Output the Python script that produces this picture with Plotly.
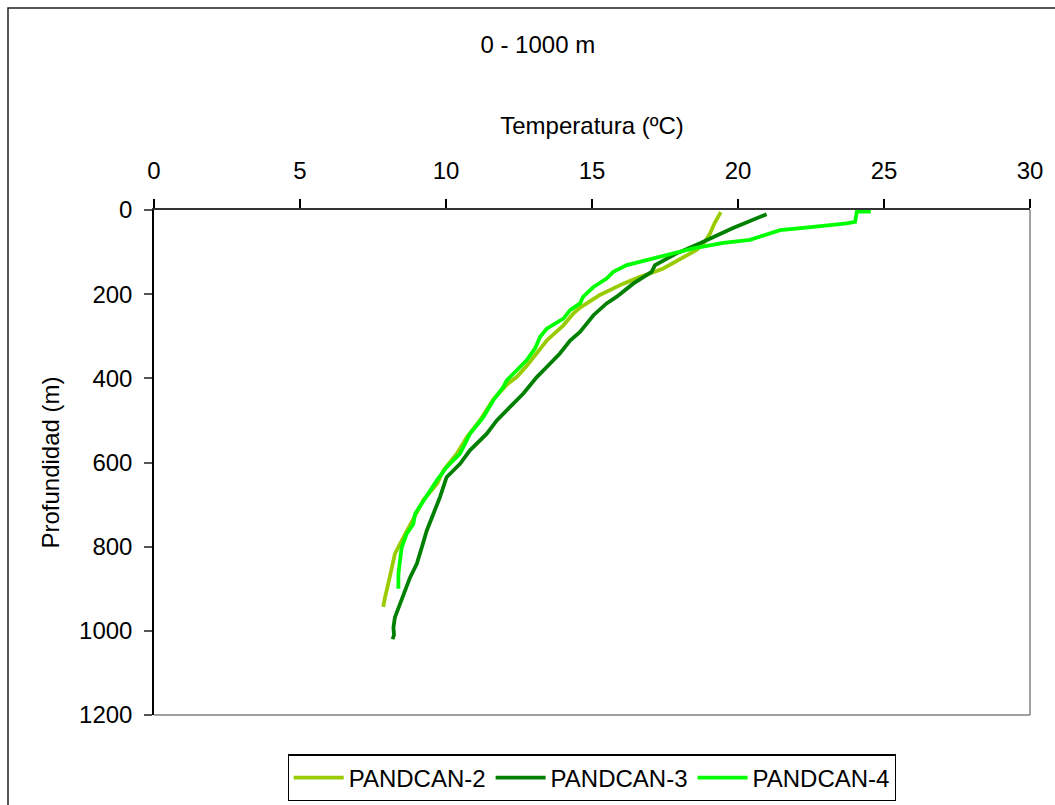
import plotly.graph_objects as go

# ---- data ----
series_names = ["PANDCAN-2", "PANDCAN-3", "PANDCAN-4"]
series_colors = ["#99CC00", "#008000", "#00FF00"]

depth_2 = [5, 31, 56, 75, 95, 108, 123, 139, 151, 159, 175, 202, 222, 232, 246, 274,
           310, 341, 371, 397, 415, 450, 500, 540, 579, 619, 650, 690, 746, 794, 817,
           857, 889, 921, 943]
temp_2 = [19.41, 19.20, 19.04, 18.87, 18.58, 18.24, 17.90, 17.44, 16.99, 16.64, 16.07,
          15.27, 14.82, 14.59, 14.36, 14.02, 13.45, 13.11, 12.76, 12.42, 12.08, 11.62,
          11.16, 10.71, 10.37, 9.91, 9.70, 9.22, 8.77, 8.42, 8.25, 8.14, 8.02, 7.91, 7.85]

depth_3 = [10, 43, 79, 103, 131, 147, 175, 206, 222, 250, 270, 290, 310, 341, 373, 397,
           436, 476, 500, 532, 571, 603, 635, 683, 722, 762, 802, 841, 873, 905, 937,
           968, 992, 1010, 1020]
temp_3 = [20.98, 19.83, 18.70, 17.90, 17.16, 17.04, 16.41, 15.85, 15.50, 15.05, 14.82,
          14.59, 14.25, 13.90, 13.45, 13.11, 12.65, 12.08, 11.74, 11.39, 10.82, 10.48,
          10.02, 9.79, 9.57, 9.34, 9.17, 9.00, 8.77, 8.60, 8.42, 8.25, 8.20, 8.22, 8.17]

depth_4 = [4, 4, 28, 32, 40, 48, 71, 78, 91, 107, 119, 131, 147, 163, 183, 206, 222, 238,
           258, 282, 302, 317, 329, 357, 381, 405, 421, 452, 492, 532, 579, 611, 643, 690,
           722, 746, 770, 802, 833, 865, 900]
temp_4 = [24.55, 24.07, 24.01, 23.72, 22.58, 21.44, 20.41, 19.50, 18.47, 17.56, 16.87,
          16.19, 15.73, 15.50, 15.05, 14.70, 14.59, 14.25, 14.02, 13.45, 13.22, 13.11,
          13.05, 12.76, 12.42, 12.08, 11.96, 11.62, 11.28, 10.82, 10.48, 10.02, 9.68,
          9.22, 8.94, 8.88, 8.65, 8.48, 8.42, 8.37, 8.37]

x_ticks = [0, 5, 10, 15, 20, 25, 30]
y_ticks = [0, 200, 400, 600, 800, 1000, 1200]

title_text = "0 - 1000 m"
x_title = "Temperatura (ºC)"
y_title = "Profundidad (m)"

FONT = "Liberation Sans, Arial, sans-serif"
FS = 24

fig = go.Figure()
for name, color, t, d in zip(series_names, series_colors,
                             [temp_2, temp_3, temp_4], [depth_2, depth_3, depth_4]):
    fig.add_trace(go.Scatter(x=t, y=d, mode="lines", name=name,
                             line=dict(color=color, width=3.8)))

fig.update_layout(
    width=1055, height=805,
    margin=dict(l=154, r=25, t=210, b=90, autoexpand=False),
    paper_bgcolor="white", plot_bgcolor="white",
    font=dict(family=FONT, size=FS, color="black"),
    title=dict(text=title_text, x=537.8 / 1055, xref="container", xanchor="center",
               y=1 - 45 / 805, yref="container", yanchor="middle",
               font=dict(family=FONT, size=FS, color="black")),
    showlegend=True,
    legend=dict(orientation="h", x=0.5, xanchor="center", y=-0.078, yanchor="top",
                bordercolor="black", borderwidth=1.2, bgcolor="white",
                font=dict(family=FONT, size=FS, color="black"),
                itemwidth=50, tracegroupgap=0),
    xaxis=dict(side="top", range=[0, 30], tickvals=x_ticks, ticks="outside",
               ticklen=9, tickwidth=1.5, tickcolor="black",
               showline=True, linecolor="#333333", linewidth=1.5,
               showgrid=False, zeroline=False, ticklabelstandoff=11,
               title=dict(text=x_title, standoff=15,
                          font=dict(family=FONT, size=FS, color="black")),
               tickfont=dict(family=FONT, size=FS, color="black")),
    yaxis=dict(range=[1200, 0], tickvals=y_ticks, ticks="outside",
               ticklen=8, tickwidth=1.5, tickcolor="#555555",
               showline=True, linecolor="black", linewidth=1.5,
               showgrid=False, zeroline=False, ticklabelstandoff=7,
               title=dict(text=y_title, standoff=13,
                          font=dict(family=FONT, size=FS, color="black")),
               tickfont=dict(family=FONT, size=FS, color="black")),
    shapes=[
        # right and bottom borders of the plot area (grey)
        dict(type="line", xref="paper", yref="paper", x0=1, x1=1, y0=0, y1=1,
             line=dict(color="#808080", width=1.5)),
        dict(type="line", xref="paper", yref="paper", x0=0, x1=1, y0=0, y1=0,
             line=dict(color="#808080", width=1.5)),
        # outer chart border (extends past the right and bottom edges)
        dict(type="rect", xref="paper", yref="paper",
             x0=(8 - 154) / 876, x1=(1075 - 154) / 876,
             y0=(715 - 830) / 505, y1=(715 - 8) / 505,
             line=dict(color="#222222", width=1.5), fillcolor="rgba(0,0,0,0)",
             layer="below"),
    ],
)

fig.write_html("out.html")
